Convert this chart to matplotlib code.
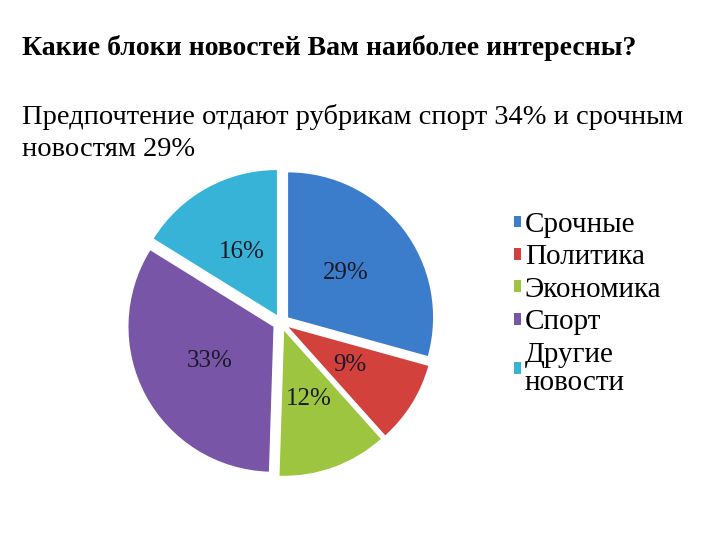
import matplotlib.pyplot as plt
from matplotlib.patches import Patch

TITLE = "Какие блоки новостей Вам наиболее интересны?"
SUBTITLE = "Предпочтение отдают рубрикам спорт 34% и срочным\nновостям 29%"

CATEGORIES = ["Срочные", "Политика", "Экономика", "Спорт", "Другие\nновости"]
SHARES = [29, 9, 12, 33, 16]
COLORS = ["#3b7dca", "#d2413b", "#9ec53f", "#7855a7", "#36b3d6"]

SERIF = ["Liberation Serif", "DejaVu Serif"]

fig = plt.figure(figsize=(7.2, 5.4), dpi=100)
fig.patch.set_facecolor("white")

fig.text(22 / 720, 1 - 48 / 540, TITLE, family=SERIF, fontsize=20,
         fontweight="bold", va="center", ha="left")
fig.text(22 / 720, 1 - 104 / 540, SUBTITLE, family=SERIF, fontsize=20.5,
         va="top", ha="left", linespacing=1.38)

ax = fig.add_axes([0.169, 0.107, 0.443, 0.591])
wedges, texts = ax.pie(
    SHARES, colors=COLORS, startangle=90, counterclock=False,
    explode=[0.06] * len(SHARES),
    labels=[f"{v}%" for v in SHARES], labeldistance=0.5,
    wedgeprops={"linewidth": 0},
    textprops={"family": SERIF, "fontsize": 18, "color": "#1a1a2a"},
)
for t in texts:
    t.set_ha("center")
    t.set_va("center")
ax.set_xlim(-1.1, 1.1)
ax.set_ylim(-1.1, 1.1)
ax.set_aspect("equal")

handles = [Patch(facecolor=c, edgecolor="none") for c in COLORS]
leg = fig.legend(handles, CATEGORIES, loc="upper left",
                 bbox_to_anchor=(514 / 720, 1 - 212 / 540), frameon=False,
                 prop={"family": SERIF, "size": 21},
                 handlelength=0.25, handleheight=0.25, handletextpad=0.12,
                 labelspacing=0.22, borderaxespad=0, borderpad=0)
for t in leg.get_texts():
    t.set_linespacing(1.1)

fig.savefig("out.png", dpi=100, facecolor="white")
